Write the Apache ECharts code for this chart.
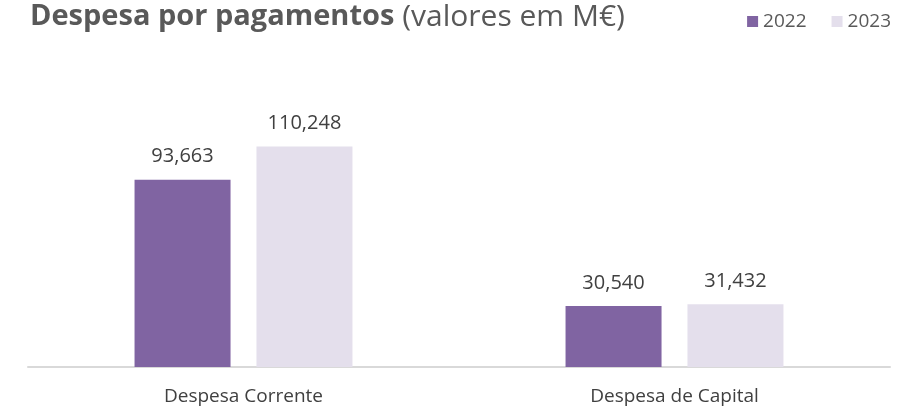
<!DOCTYPE html>
<html>
<head>
<meta charset="utf-8">
<script src="https://cdn.jsdelivr.net/npm/echarts@6/dist/echarts.min.js"></script>
<style>
  html, body { margin: 0; padding: 0; background: #fff; }
  #chart { width: 904px; height: 406px; }
</style>
</head>
<body>
<div id="chart"></div>
<script>
var categories = ['Despesa Corrente', 'Despesa de Capital'];
var years = ['2022', '2023'];
var values2022 = [93663, 30540];
var values2023 = [110248, 31432];

var colors = ['#8064a2', '#e4dfec'];

function fmt(v) {
    return String(v).replace(/\B(?=(\d{3})+(?!\d))/g, ',');
}

var chart = echarts.init(document.getElementById('chart'));
var labelStyle = {
    show: true,
    position: 'top',
    distance: 13,
    fontFamily: 'Open Sans',
    fontSize: 20,
    color: '#404040',
    formatter: function (p) { return fmt(p.value); }
};
var option = {
    animation: false,
    color: colors,
    textStyle: { fontFamily: 'Open Sans' },
    title: {
        left: 25,
        top: -3,
        text: '{b|Despesa por pagamentos}{n| (valores em M€)}',
        textStyle: {
            rich: {
                b: { fontFamily: 'Open Sans', fontWeight: 'bold', fontSize: 29, color: '#595959' },
                n: { fontFamily: 'Open Sans', fontWeight: 'normal', fontSize: 30, color: '#595959' }
            }
        }
    },
    legend: {
        right: 8,
        top: 7,
        icon: 'rect',
        itemWidth: 11,
        itemHeight: 11,
        itemGap: 25,
        textStyle: { fontFamily: 'Open Sans', fontSize: 19, color: '#595959', padding: [0, 0, 0, 0] },
        data: years
    },
    grid: { left: 28, right: 14, top: 127, bottom: 38, containLabel: false },
    xAxis: {
        type: 'category',
        data: categories,
        axisLine: { lineStyle: { color: '#d9d9d9', width: 2 } },
        axisTick: { show: false },
        axisLabel: { fontFamily: 'Open Sans', fontSize: 19, color: '#404040', margin: 20 }
    },
    yAxis: {
        type: 'value',
        min: 0,
        max: 120000,
        show: false,
        splitLine: { show: false }
    },
    series: [
        {
            name: years[0],
            type: 'bar',
            data: values2022,
            barWidth: 96,
            barGap: '27%',
            label: labelStyle
        },
        {
            name: years[1],
            type: 'bar',
            data: values2023,
            barWidth: 96,
            barGap: '27%',
            label: labelStyle
        }
    ]
};
chart.setOption(option);
</script>
</body>
</html>
